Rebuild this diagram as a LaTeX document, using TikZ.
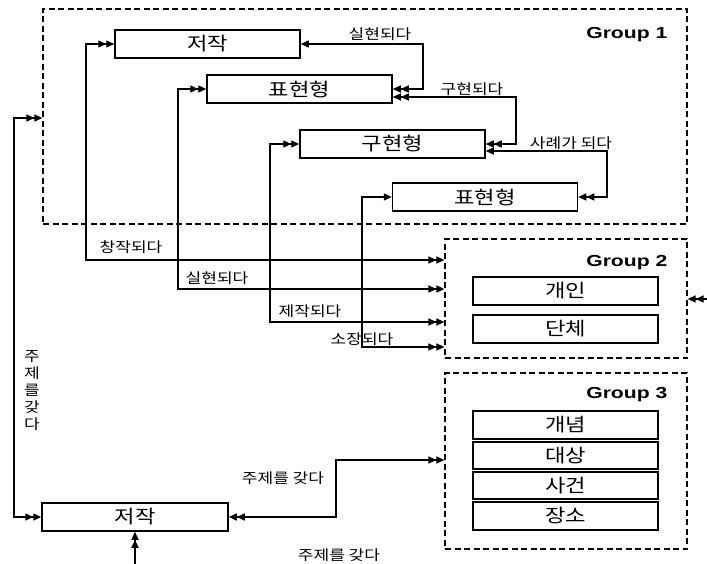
\documentclass[tikz,border=0pt]{standalone}
\usepackage{fontspec}
\newfontfamily\krfont[FakeStretch=1.2]{Noto Sans CJK KR}
\newfontfamily\grpfont[FakeStretch=1.32]{Liberation Sans}
\usetikzlibrary{arrows.meta}
\begin{document}
\begin{tikzpicture}[x=1pt,y=-1pt,
  line width=1.4pt,
  box/.style={draw, line width=1.5pt, minimum width=185pt, minimum height=28pt, inner sep=0pt, font=\krfont\fontsize{18.5}{22}\selectfont},
  grp/.style={draw, dash pattern=on 6pt off 3.5pt, line width=1.2pt, inner sep=0pt},
  grptitle/.style={font=\grpfont\bfseries\fontsize{16}{19}\selectfont, anchor=base east, inner sep=0pt},
  lbl/.style={font=\krfont\fontsize{14.2}{17}\selectfont, inner sep=0pt},
  adbl/.style={-{Triangle[length=8pt,width=7pt]Triangle[length=8pt,width=7pt]}},
  bdbl/.style={{Triangle[length=8pt,width=7pt]Triangle[length=8pt,width=7pt]}-{Triangle[length=8pt,width=7pt]Triangle[length=8pt,width=7pt]}},
  sd/.style={{Triangle[length=8pt,width=7pt]}-{Triangle[length=8pt,width=7pt]Triangle[length=8pt,width=7pt]}}
]
\useasboundingbox (0,0) rectangle (707,564);

% groups
\node[grp, minimum width=644pt, minimum height=215pt] (grp1) at (365,116.5) {};
\node[grp, minimum width=242pt, minimum height=119pt] (grp2) at (566,298.5) {};
\node[grp, minimum width=242pt, minimum height=176pt] (grp3) at (566,461) {};
\node[grptitle] (t1) at (668,39) {Group 1};
\node[grptitle] (t2) at (668,266) {Group 2};
\node[grptitle] (t3) at (668,398) {Group 3};

% boxes
\node[box] (j1) at (207.5,44) {저작};
\node[box] (p1) at (299.5,89) {표현형};
\node[box] (gh) at (392.5,144) {구현형};
\node[box] (p2) at (485,197) {표현형};
\node[box] (ind) at (565.5,291) {개인};
\node[box] (grpb) at (565.5,329) {단체};
\node[box] (con) at (565.5,425) {개념};
\node[box, minimum height=27pt] (obj) at (565.5,455.5) {대상};
\node[box, minimum height=27pt] (evt) at (565.5,485.5) {사건};
\node[box] (plc) at (565.5,516) {장소};
\node[box, minimum width=186pt] (j2) at (135,517) {저작};

% coordinates
\coordinate (c86) at (86,260);
\coordinate (c178) at (178,289);
\coordinate (c270) at (270,322);
\coordinate (c362) at (362,347);
\coordinate (rA) at (423,44);
\coordinate (rB) at (516,97);
\coordinate (rC) at (607,151);
\coordinate (lx) at (14,118);
\coordinate (m) at (336,460);
\coordinate (bot) at (135,580);
\coordinate (ext) at (725,299);

% connectors
\draw[bdbl] (j1.west) -| (c86) -- (grp2.west |- c86);
\draw[bdbl] (p1.west) -| (c178) -- (grp2.west |- c178);
\draw[bdbl] (gh.west) -| (c270) -- (grp2.west |- c270);
\draw[sd] (p2.west) -| (c362) -- (grp2.west |- c362);
\draw[sd] (j1.east) -- (rA) |- (p1.east);
\draw[bdbl] (p1.east |- rB) -- (rB) |- (gh.east);
\draw[sd] (gh.east |- rC) -- (rC) |- (p2.east);
\draw[bdbl] (grp1.west |- lx) -- (lx) |- (j2.west);
\draw[bdbl] (j2.east) -| (m) -- (grp3.west |- m);
\draw[adbl] (bot) -- (j2.south);
\draw[adbl] (ext) -- (grp2.east |- ext);

% labels
\node[lbl] (l1) at (380,34) {실현되다};
\node[lbl] (l2) at (472,89) {구현되다};
\node[lbl] (l3) at (571,143) {사례가 되다};
\node[lbl] (l4) at (131,247) {창작되다};
\node[lbl] (l5) at (217,278) {실현되다};
\node[lbl] (l6) at (310,311) {제작되다};
\node[lbl] (l7) at (362,339) {소장되다};
\node[lbl] (l8) at (283,478) {주제를 갖다};
\node[lbl] (l9) at (339,555) {주제를 갖다};
\node[lbl, align=center, font=\krfont\fontsize{14.2}{17}\selectfont] (l10) at (32,390.5) {주\\제\\를\\갖\\다};
\end{tikzpicture}
\end{document}
